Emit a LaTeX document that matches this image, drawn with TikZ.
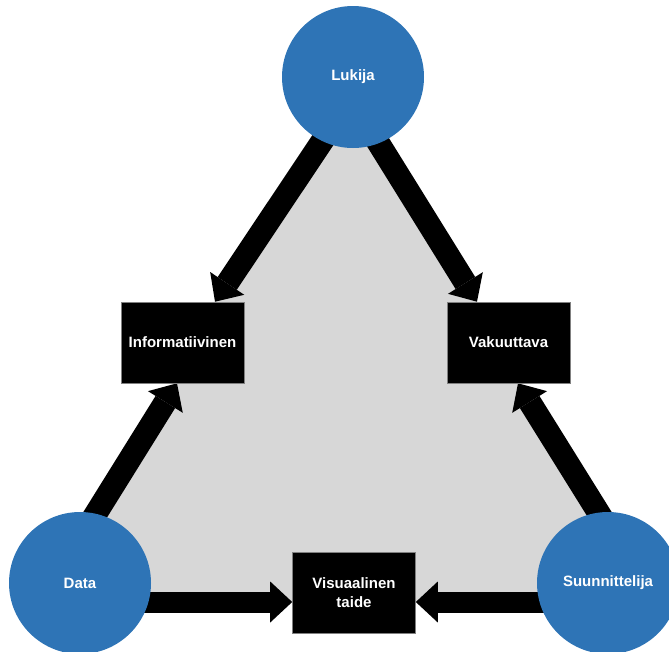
\documentclass[tikz,border=0pt]{standalone}
\usepackage{fontspec}
\setmainfont{Liberation Sans}
\usetikzlibrary{arrows.meta,calc,backgrounds}
\definecolor{roleblue}{RGB}{46,116,182}
\definecolor{fieldgray}{RGB}{215,215,215}
\begin{document}
\begin{tikzpicture}[x=1pt,y=-1pt,
  role/.style={circle,fill=roleblue,minimum size=142pt,inner sep=0pt,
    text=white,font=\fontsize{15}{18}\selectfont\bfseries},
  kind/.style={rectangle,fill=black,draw=black!50,line width=0.6pt,
    minimum width=123pt,minimum height=81pt,inner sep=0pt,
    text=white,align=center,font=\fontsize{15}{19}\selectfont\bfseries},
  flow/.style={line width=21pt,
    -{Triangle[length=22pt,width=41pt,line width=0pt]}},
  slant/.style={flow,line width=23pt}]
\useasboundingbox (0,0) rectangle (669,651);

% the three actors
\node[role] (lukija) at (353,77)  {Lukija};
\node[role] (data)   at (80,583)  {Data};
\node[role] (suun)   at (608,583) {Suunnittelija};

% the three kinds of visualisation
\node[kind] (info) at (182.5,342.5) {Informatiivinen};
\node[kind] (vak)  at (508.5,342.5) {Vakuuttava};
\node[kind] (vis)  at (354,592.5)   {Visuaalinen\\taide};

\begin{pgfonlayer}{background}
  % shaded field between the arrows
  \fill[fieldgray]
    ($(lukija.center)+(-10,33)$) -- ([xshift=32.5pt]info.north) -- (info.center)
    -- ([xshift=-5.5pt]info.south) -- ($(data.center)+(-13,-23)$)
    -- ($(data.center)+(-13,19)$) -- ($(suun.center)+(20,19)$)
    -- ($(suun.center)+(20,-23)$) -- ([xshift=9.5pt]vak.south) -- (vak.center)
    -- ([xshift=-31.5pt]vak.north) -- ($(lukija.center)+(5,33)$) -- cycle;

  % arrows
  \draw[slant] ($(lukija.center)+(-10,33)$) -- ([xshift=32.5pt]info.north);
  \draw[slant] ($(lukija.center)+(5,33)$)   -- ([xshift=-31.5pt]vak.north);
  \draw[slant] ($(data.center)+(-13,-23)$)  -- ([xshift=-5.5pt]info.south);
  \draw[slant] ($(suun.center)+(20,-23)$)   -- ([xshift=9.5pt]vak.south);
  \draw[flow]  ($(data.center)+(20,19)$)    -- ([yshift=-9.5pt]vis.west);
  \draw[flow]  ($(suun.center)+(-18,19)$)   -- ([yshift=-9.5pt]vis.east);
\end{pgfonlayer}
\end{tikzpicture}
\end{document}
